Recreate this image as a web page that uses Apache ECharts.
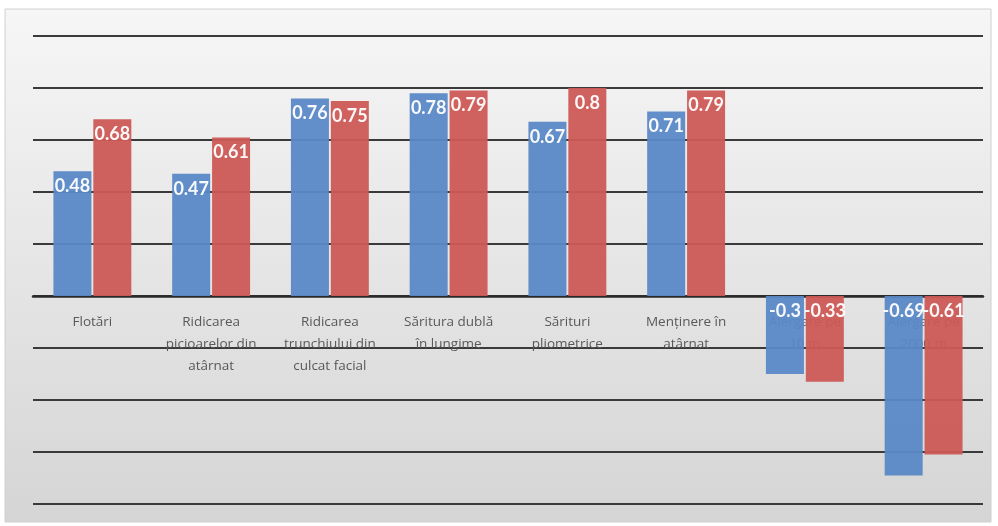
<!DOCTYPE html>
<html>
<head>
<meta charset="utf-8">
<script src="https://cdn.jsdelivr.net/npm/echarts@6/dist/echarts.min.js"></script>
<style>
  html, body { margin: 0; padding: 0; background: #ffffff; }
  #chart { width: 998px; height: 526px; }
</style>
</head>
<body>
<div id="chart"></div>
<script>
// Exercise names (category axis), wrapped onto lines
const categories = [
  'Flotări',
  'Ridicarea\npicioarelor din\natârnat',
  'Ridicarea\ntrunchiului din\nculcat facial',
  'Săritura dublă\nîn lungime',
  'Sărituri\npliometrice',
  'Menținere în\natârnat',
  'Alergare pe\n10 m',
  'Alergare pe\n2000 m'
];
const seriesA = [0.48, 0.47, 0.76, 0.78, 0.67, 0.71, -0.3, -0.69];
const seriesB = [0.68, 0.61, 0.75, 0.79, 0.8, 0.79, -0.33, -0.61];

const blue = '#5a88c6';
const red = '#cc5a56';

const labelStyle = {
  show: true,
  position: 'insideTop',
  color: '#ffffff',
  fontFamily: 'Lato, "Open Sans", sans-serif',
  fontWeight: 'bold',
  fontSize: 18,
  distance: 6
};

const LABEL_GAP = 15;

const chart = echarts.init(document.getElementById('chart'), null, { renderer: 'canvas' });
chart.setOption({
  animation: false,
  backgroundColor: '#ffffff',
  graphic: [{
    type: 'rect',
    z: -10,
    silent: true,
    shape: { x: 5, y: 9, width: 986, height: 513 },
    style: {
      fill: new echarts.graphic.LinearGradient(0, 0, 0, 1, [
        { offset: 0, color: '#f6f6f6' },
        { offset: 1, color: '#d5d5d5' }
      ]),
      stroke: '#d0d0d0',
      lineWidth: 1
    }
  }],
  grid: { left: 33, right: 15, top: 36, bottom: 22, containLabel: false, outerBoundsMode: 'none' },
  xAxis: {
    type: 'category',
    data: categories,
    position: 'bottom',
    axisLine: { onZero: true, lineStyle: { color: '#2a2a2a', width: 2.5 } },
    axisTick: { show: false },
    axisLabel: {
      color: '#595959',
      fontFamily: '"Open Sans", Lato, sans-serif',
      fontSize: 13.5,
      lineHeight: 22,
      margin: LABEL_GAP,
      interval: 0
    }
  },
  yAxis: {
    type: 'value',
    min: -0.8,
    max: 1.0,
    interval: 0.2,
    axisLine: { show: false },
    axisTick: { show: false },
    axisLabel: { show: false },
    splitLine: { lineStyle: { color: '#3a3a3a', width: 2 } }
  },
  series: [
    {
      name: 'Serie 1',
      type: 'bar',
      data: seriesA,
      barWidth: 38,
      barGap: '5%',
      itemStyle: { color: blue, opacity: 0.95 },
      label: labelStyle
    },
    {
      name: 'Serie 2',
      type: 'bar',
      data: seriesB,
      barWidth: 38,
      barGap: '5%',
      itemStyle: { color: red, opacity: 0.95 },
      label: labelStyle
    }
  ]
});

// Category names sit just under the zero line rather than at the grid bottom
const zeroY = chart.convertToPixel({ yAxisIndex: 0 }, 0);
const bottomY = chart.convertToPixel({ yAxisIndex: 0 }, -0.8);
chart.setOption({
  xAxis: { axisLabel: { margin: LABEL_GAP - (bottomY - zeroY) } }
});
</script>
</body>
</html>
